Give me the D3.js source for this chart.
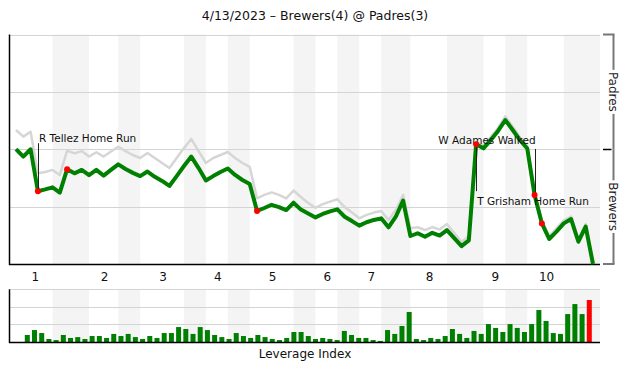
<!DOCTYPE html>
<html><head><meta charset="utf-8">
<script src="https://cdn.jsdelivr.net/npm/d3@7/dist/d3.min.js"></script>
<style>
body{margin:0;background:#fff}
svg{display:block}
text{font-family:"DejaVu Sans",sans-serif;fill:#111}
</style>
</head><body><svg id="c" width="630" height="380"></svg>
<script>
// ---------------- data ----------------
const title = "4/13/2023 – Brewers(4) @ Padres(3)";
const teams = ["Padres", "Brewers"];
const inningLabels = ["1","2","3","4","5","6","7","8","9","10"];
// event index at which each half inning begins
const topStart    = [0, 10, 17, 26, 32, 41, 47, 54, 64, 70];
const bottomStart = [5, 14, 23, 29, 38, 44, 50, 59, 67, 75];
const bottomEnd   = [10, 17, 26, 32, 41, 47, 54, 64, 70, 80];
// home (Padres) win expectancy after each event, %
const winProb = [50.1,46.8,50.0,31.7,32.5,33.4,31.1,41.3,39.5,41.0,
  38.7,41.0,38.5,41.0,43.4,41.4,39.7,38.3,40.3,38.0,
  36.2,34.0,38.3,42.7,46.8,41.8,36.4,38.3,40.1,41.6,
  38.8,36.6,34.9,23.1,24.4,25.8,24.8,23.5,26.7,23.7,
  22.0,20.3,21.8,22.9,23.8,20.6,18.7,16.7,18.2,19.2,
  19.9,16.0,20.6,27.6,12.2,13.4,11.9,13.6,12.4,14.8,
  11.3,7.8,10.3,52.2,50.4,54.0,58.0,62.7,58.4,54.0,
  50.3,30.1,17.7,10.9,14.1,17.7,19.6,9.7,16.3,0];
// comparison (grey) line, %
const altWinProb = [58.4,55.5,57.6,39.5,40.1,41.0,38.8,49.4,48.2,49.2,
  46.8,48.7,46.8,49.0,51.1,49.2,47.5,46.2,48.4,46.2,
  44.0,41.8,46.2,50.5,54.5,49.2,44.0,46.2,47.5,48.8,
  46.2,44.0,42.3,28.6,30.1,31.2,30.1,28.6,32.0,29.2,
  26.6,24.5,26.1,27.2,28.2,24.8,22.4,19.9,21.4,22.4,
  23.1,19.2,23.5,30.1,15.6,16.0,14.8,16.1,15.0,17.4,
  13.5,9.6,12.2,53.2,51.6,55.3,59.3,64.3,59.9,55.3,
  51.4,31.4,19.2,12.2,15.5,19.0,20.7,10.9,17.4,0];
// leverage index of each event
const leverage = [0.40,0.68,0.51,0.17,0.11,0.40,0.23,0.28,0.17,0.34,
  0.34,0.23,0.46,0.34,0.46,0.28,0.17,0.34,0.23,0.51,
  0.51,0.85,0.74,0.46,0.85,0.68,0.40,0.28,0.17,0.51,
  0.34,0.23,0.40,0.28,0.17,0.11,0.23,0.57,0.57,0.34,
  0.17,0.23,0.17,0.11,0.63,0.40,0.23,0.23,0.11,0.06,
  0.68,0.46,0.91,1.71,0.17,0.11,0.23,0.17,0.34,0.74,
  0.46,0.23,0.63,0.46,1.02,0.80,0.57,1.02,0.80,0.57,
  1.02,1.82,1.20,0.51,0.46,1.59,2.16,1.59,2.39];
const scoringPlays = [3, 7, 33, 63, 71, 72];
const annotations = [
  {i: 3,  text: "R Tellez Home Run"},
  {i: 63, text: "T Grisham Home Run"},
  {i: 71, text: "W Adames Walked"}
];
const wpTicks = [0, 25, 50, 75, 100];
const levTicks = [0, 1, 2, 3];

// ---------------- layout ----------------
const svg = d3.select("#c");
const P = {left: 10, right: 600, top: 34.5, bottom: 264};
const B = {top: 289.3, bottom: 342};
const x = d3.scaleLinear().domain([0, winProb.length - 1]).range([16, 593]);
const y = d3.scaleLinear().domain([0, 100]).range([P.bottom, P.top]);
const xb = d3.scaleLinear().domain([0, leverage.length - 1]).range([27.3, 589.3]);
const yb = d3.scaleLinear().domain([0, 3]).range([B.bottom, B.top]);
const clampX = v => Math.max(P.left, Math.min(P.right, v));

svg.append("text").attr("x", 315).attr("y", 20).attr("text-anchor", "middle")
  .style("font-size", "12.5px").text(title);

function bands(y0, y1) {
  svg.append("g").selectAll("rect").data(bottomStart).join("rect")
    .attr("x", (d) => clampX(x(d)))
    .attr("width", (d, k) => clampX(x(bottomEnd[k])) - clampX(x(d)))
    .attr("y", y0).attr("height", y1 - y0).attr("fill", "#f4f4f4");
}
// ---- main panel ----
bands(P.top, P.bottom);
svg.append("g").selectAll("line").data(wpTicks.slice(1)).join("line")
  .attr("x1", P.left).attr("x2", P.right).attr("y1", d => Math.round(y(d)) + 0.5).attr("y2", d => Math.round(y(d)) + 0.5)
  .attr("stroke", "#d4d4d4").attr("stroke-width", 1.2);
svg.append("line").attr("x1", P.left - 0.5).attr("x2", P.left - 0.5).attr("y1", P.top).attr("y2", P.bottom + 1)
  .attr("stroke", "#000").attr("stroke-width", 1.5);
svg.append("line").attr("x1", P.left - 1).attr("x2", P.right).attr("y1", P.bottom + 0.5).attr("y2", P.bottom + 0.5)
  .attr("stroke", "#000").attr("stroke-width", 1.5);

const line = d3.line().x((d, i) => x(i)).y(d => y(d));
svg.append("path").datum(altWinProb).attr("d", line).attr("fill", "none")
  .attr("stroke", "#d6d6d6").attr("stroke-width", 2.5).attr("stroke-linejoin", "round");
svg.append("path").datum(winProb).attr("d", line).attr("fill", "none")
  .attr("stroke", "#008000").attr("stroke-width", 4).attr("stroke-linejoin", "round");

// annotations
const annLayout = {3: {dy: -48, tdy: -49, tdx: 1, anchor: "start"},
                   63: {dy: 47, tdy: 61, tdx: 1, anchor: "start"},
                   71: {dy: -46, tdy: -50.5, tdx: 1, anchor: "end"}};
annotations.forEach(a => {
  const L = annLayout[a.i], px = x(a.i), py = y(winProb[a.i]);
  svg.append("line").attr("x1", Math.round(px) + 0.5).attr("x2", Math.round(px) + 0.5)
    .attr("y1", py).attr("y2", py + L.dy).attr("stroke", "#222").attr("stroke-width", 1);
  svg.append("text").attr("x", px + L.tdx).attr("y", py + L.tdy).attr("text-anchor", L.anchor)
    .style("font-size", "10.5px").text(a.text);
});
svg.append("g").selectAll("circle").data(scoringPlays).join("circle")
  .attr("cx", d => x(d)).attr("cy", d => y(winProb[d])).attr("r", 3).attr("fill", "#ff0000");

// inning labels
svg.append("g").selectAll("text").data(inningLabels).join("text")
  .attr("x", (d, k) => (x(topStart[k]) + x(bottomStart[k])) / 2 + 1)
  .attr("y", 281).attr("text-anchor", "middle").style("font-size", "12px").text(d => d);

// right bracket axis
const ax = 613.5, tx0 = 603;
const rg = svg.append("g");
[[100, 50, teams[0]], [50, 0, teams[1]]].forEach(([a, b, name]) => {
  const ya = y(a), yc = y((a + b) / 2), ybb = y(b);
  const t = rg.append("text").attr("transform", `translate(${ax},${yc}) rotate(90)`)
    .attr("text-anchor", "middle").attr("dy", "0.35em").style("font-size", "12px")
    .style("fill", "#222").text(name);
  const half = t.node().getComputedTextLength() / 2 + 2;
  rg.append("line").attr("x1", ax).attr("x2", ax).attr("y1", ya).attr("y2", yc - half)
    .attr("stroke", "#777").attr("stroke-width", 2);
  rg.append("line").attr("x1", ax).attr("x2", ax).attr("y1", yc + half).attr("y2", ybb)
    .attr("stroke", "#777").attr("stroke-width", 2);
});
[100, 0].forEach(v => rg.append("line").attr("x1", tx0).attr("x2", ax + 1).attr("y1", y(v)).attr("y2", y(v))
  .attr("stroke", "#777").attr("stroke-width", 2));
rg.append("line").attr("x1", tx0).attr("x2", 611.5).attr("y1", Math.round(y(50)) + 0.5).attr("y2", Math.round(y(50)) + 0.5)
  .attr("stroke", "#000").attr("stroke-width", 1.5);

// ---- leverage panel ----
bands(B.top, B.bottom);
svg.append("g").selectAll("line").data(levTicks.slice(1)).join("line")
  .attr("x1", P.left).attr("x2", P.right).attr("y1", d => Math.round(yb(d)) + 0.5).attr("y2", d => Math.round(yb(d)) + 0.5)
  .attr("stroke", "#d4d4d4").attr("stroke-width", 1.2);
const maxLev = d3.max(leverage);
svg.append("g").selectAll("rect").data(leverage).join("rect")
  .attr("x", (d, j) => xb(j) - 2.5).attr("width", 5)
  .attr("y", d => yb(d)).attr("height", d => yb(0) - yb(d))
  .attr("fill", d => d === maxLev ? "#ff0000" : "#008000");
svg.append("line").attr("x1", P.left - 0.5).attr("x2", P.left - 0.5).attr("y1", B.top).attr("y2", B.bottom + 1)
  .attr("stroke", "#000").attr("stroke-width", 1.5);
svg.append("line").attr("x1", P.left - 1).attr("x2", P.right).attr("y1", B.bottom + 0.5).attr("y2", B.bottom + 0.5)
  .attr("stroke", "#000").attr("stroke-width", 1.5);
svg.append("text").attr("x", 305).attr("y", 358).attr("text-anchor", "middle")
  .style("font-size", "12px").text("Leverage Index");
</script>
</body></html>
